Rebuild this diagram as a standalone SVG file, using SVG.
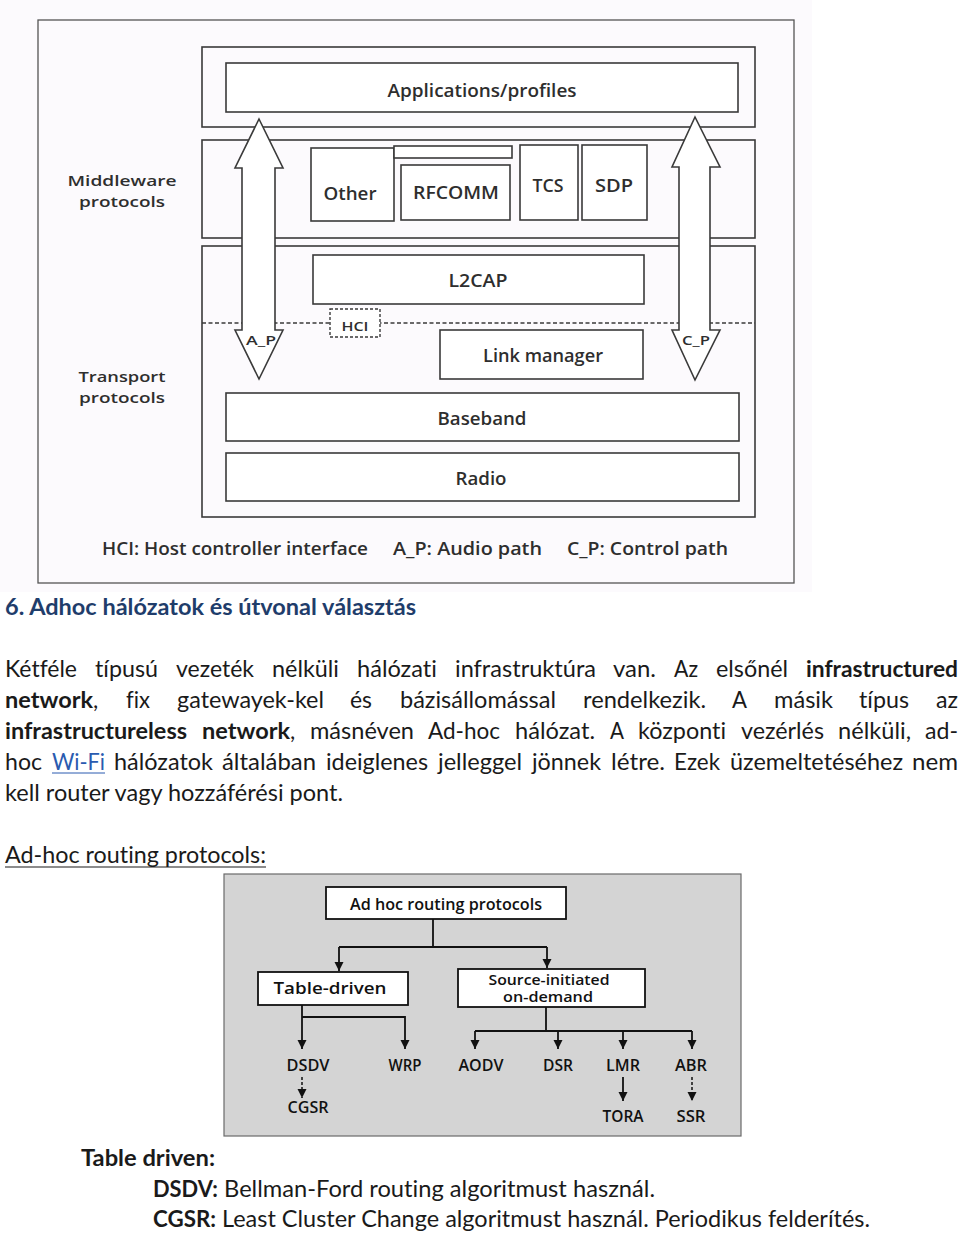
<svg xmlns="http://www.w3.org/2000/svg" width="960" height="1235" viewBox="0 0 960 1235">
<style>
.frame{fill:none;stroke:#555;stroke-width:1.3}
.grp{fill:none;stroke:#3a3a3a;stroke-width:1.6}
.bx{fill:#fff;stroke:#3a3a3a;stroke-width:1.6}
.dash{fill:none;stroke:#3a3a3a;stroke-width:1.4;stroke-dasharray:4 2.5}
.dbx{fill:#fff;stroke:#3a3a3a;stroke-width:1.4;stroke-dasharray:3 2}
.arw{fill:#fff;stroke:#3a3a3a;stroke-width:1.6;stroke-linejoin:miter}
.t{font-family:"Open Sans","Noto Sans",sans-serif;font-weight:600;fill:#2e2e2e;font-size:18px;text-anchor:middle}
.t2{font-family:"Open Sans","Noto Sans",sans-serif;font-weight:600;fill:#2e2e2e;font-size:15px;text-anchor:middle}
.ts{font-family:"Open Sans","Noto Sans",sans-serif;font-weight:600;fill:#2e2e2e;font-size:13px;text-anchor:middle}
.tl{font-family:"Open Sans","Noto Sans",sans-serif;font-weight:600;fill:#2e2e2e;font-size:18px}
.doc{font-family:Lato,"Open Sans",sans-serif;font-size:23px;fill:#1a1a1a;font-variant-ligatures:none}
.b{font-weight:700}
.h1{font-family:Lato,"Open Sans",sans-serif;font-size:23px;font-weight:700;fill:#1f3d6b}
.panel{fill:#d4d4d4;stroke:#6a6a6a;stroke-width:1.2}
.bbx{fill:#fff;stroke:#111;stroke-width:1.8}
.bt{font-family:"Open Sans","Noto Sans",sans-serif;font-weight:600;font-size:16px;fill:#111;text-anchor:middle}
.bt2{font-family:"Open Sans","Noto Sans",sans-serif;font-weight:600;font-size:14px;fill:#111;text-anchor:middle}
.cn{fill:none;stroke:#111;stroke-width:1.8}
.cnd{fill:none;stroke:#111;stroke-width:1.5;stroke-dasharray:3 2}
</style>
<defs>
<marker id="ah" markerUnits="userSpaceOnUse" markerWidth="10" markerHeight="10" refX="9" refY="5" orient="auto" viewBox="0 0 10 10">
<path d="M0,0.5 L9,5 L0,9.5 z" fill="#111"/>
</marker>
</defs>
<rect x="0" y="0" width="960" height="1235" fill="#fff"/>
<rect x="0" y="0" width="812" height="592" fill="#fcfafd"/>

<!-- Bluetooth stack figure -->
<g id="figure-frame">
<rect class="frame" x="38" y="20" width="756" height="563"/>
</g>
<g id="middleware-label">
<text class="t2" x="122" y="186" textLength="109" lengthAdjust="spacingAndGlyphs">Middleware</text>
<text class="t2" x="122" y="207" textLength="86" lengthAdjust="spacingAndGlyphs">protocols</text>
</g>
<g id="transport-label">
<text class="t2" x="122" y="382" textLength="87" lengthAdjust="spacingAndGlyphs">Transport</text>
<text class="t2" x="122" y="403" textLength="86" lengthAdjust="spacingAndGlyphs">protocols</text>
</g>
<g id="group-applications">
<rect class="grp" x="202" y="47" width="553" height="80"/>
</g>
<g id="group-middleware">
<rect class="grp" x="202" y="140" width="553" height="98"/>
</g>
<g id="group-transport">
<rect class="grp" x="202" y="246" width="553" height="271"/>
<line class="dash" x1="202" y1="323" x2="755" y2="323"/>
</g>
<g id="applications">
<rect class="bx" x="226" y="63" width="512" height="49"/>
<text class="t" x="482" y="97" textLength="189" lengthAdjust="spacingAndGlyphs">Applications/profiles</text>
</g>
<g id="other">
<rect class="bx" x="311" y="148" width="83" height="73"/>
<text class="t" x="350" y="200" textLength="53" lengthAdjust="spacingAndGlyphs">Other</text>
</g>
<g id="rfcomm">
<rect class="bx" x="394" y="146" width="118" height="12"/>
<rect class="bx" x="401" y="165" width="109" height="55"/>
<text class="t" x="456" y="199" textLength="86" lengthAdjust="spacingAndGlyphs">RFCOMM</text>
</g>
<g id="tcs">
<rect class="bx" x="520" y="145" width="58" height="75"/>
<text class="t" x="548" y="192" textLength="31" lengthAdjust="spacingAndGlyphs">TCS</text>
</g>
<g id="sdp">
<rect class="bx" x="582" y="145" width="65" height="75"/>
<text class="t" x="614" y="192" textLength="38" lengthAdjust="spacingAndGlyphs">SDP</text>
</g>
<g id="l2cap">
<rect class="bx" x="313" y="255" width="331" height="49"/>
<text class="t" x="478" y="287" textLength="59" lengthAdjust="spacingAndGlyphs">L2CAP</text>
</g>
<g id="hci">
<rect class="dbx" x="330" y="309" width="50" height="28"/>
<text class="ts" x="355" y="331" textLength="27" lengthAdjust="spacingAndGlyphs">HCI</text>
</g>
<g id="link-manager">
<rect class="bx" x="440" y="330" width="203" height="49"/>
<text class="t" x="543" y="362" textLength="120" lengthAdjust="spacingAndGlyphs">Link manager</text>
</g>
<g id="baseband">
<rect class="bx" x="226" y="393" width="513" height="48"/>
<text class="t" x="482" y="425" textLength="89" lengthAdjust="spacingAndGlyphs">Baseband</text>
</g>
<g id="radio">
<rect class="bx" x="226" y="453" width="513" height="48"/>
<text class="t" x="481" y="485" textLength="51" lengthAdjust="spacingAndGlyphs">Radio</text>
</g>
<g id="connectors-top">
<polygon class="arw" points="259,119 283,168 275,168 275,330 283,330 259,379 235,330 242,330 242,168 235,168"/>
<text class="ts" x="261" y="345" textLength="30" lengthAdjust="spacingAndGlyphs">A_P</text>
<polygon class="arw" points="695,117 720,167 710,167 710,330 720,330 695,380 672,330 679,330 679,167 672,167"/>
<text class="ts" x="696" y="345" textLength="28" lengthAdjust="spacingAndGlyphs">C_P</text>
</g>
<g id="legend">
<text class="tl" x="102" y="555" textLength="266" lengthAdjust="spacingAndGlyphs">HCI: Host controller interface</text>
<text class="tl" x="393" y="555" textLength="149" lengthAdjust="spacingAndGlyphs">A_P: Audio path</text>
<text class="tl" x="567" y="555" textLength="161" lengthAdjust="spacingAndGlyphs">C_P: Control path</text>
</g>

<!-- Document text -->
<g id="heading">
<text class="h1" x="5" y="615" textLength="411" lengthAdjust="spacingAndGlyphs">6. Adhoc hálózatok és útvonal választás</text>
</g>
<g id="paragraph">
<text class="doc" y="677"><tspan x="5" textLength="72" lengthAdjust="spacingAndGlyphs">Kétféle</tspan><tspan x="95" textLength="63" lengthAdjust="spacingAndGlyphs">típusú</tspan><tspan x="176" textLength="78" lengthAdjust="spacingAndGlyphs">vezeték</tspan><tspan x="272" textLength="67" lengthAdjust="spacingAndGlyphs">nélküli</tspan><tspan x="357" textLength="80" lengthAdjust="spacingAndGlyphs">hálózati</tspan><tspan x="455" textLength="141" lengthAdjust="spacingAndGlyphs">infrastruktúra</tspan><tspan x="613" textLength="43" lengthAdjust="spacingAndGlyphs">van.</tspan><tspan x="674" textLength="24" lengthAdjust="spacingAndGlyphs">Az</tspan><tspan x="716" textLength="72" lengthAdjust="spacingAndGlyphs">elsőnél</tspan><tspan class="b" x="806" textLength="152" lengthAdjust="spacingAndGlyphs">infrastructured</tspan></text>
<text class="doc" y="708"><tspan class="b" x="5" textLength="88" lengthAdjust="spacingAndGlyphs">network</tspan><tspan>,</tspan><tspan x="126" textLength="24" lengthAdjust="spacingAndGlyphs">fix</tspan><tspan x="177" textLength="147" lengthAdjust="spacingAndGlyphs">gatewayek-kel</tspan><tspan x="350" textLength="22" lengthAdjust="spacingAndGlyphs">és</tspan><tspan x="400" textLength="156" lengthAdjust="spacingAndGlyphs">bázisállomással</tspan><tspan x="583" textLength="123" lengthAdjust="spacingAndGlyphs">rendelkezik.</tspan><tspan x="732" textLength="15" lengthAdjust="spacingAndGlyphs">A</tspan><tspan x="774" textLength="59" lengthAdjust="spacingAndGlyphs">másik</tspan><tspan x="859" textLength="50" lengthAdjust="spacingAndGlyphs">típus</tspan><tspan x="936" textLength="22" lengthAdjust="spacingAndGlyphs">az</tspan></text>
<text class="doc" y="739"><tspan class="b" x="5" textLength="182" lengthAdjust="spacingAndGlyphs">infrastructureless</tspan><tspan class="b" x="202" textLength="88" lengthAdjust="spacingAndGlyphs">network</tspan><tspan>,</tspan><tspan x="310" textLength="104" lengthAdjust="spacingAndGlyphs">másnéven</tspan><tspan x="428" textLength="72" lengthAdjust="spacingAndGlyphs">Ad-hoc</tspan><tspan x="515" textLength="80" lengthAdjust="spacingAndGlyphs">hálózat.</tspan><tspan x="610" textLength="14" lengthAdjust="spacingAndGlyphs">A</tspan><tspan x="638" textLength="88" lengthAdjust="spacingAndGlyphs">központi</tspan><tspan x="741" textLength="83" lengthAdjust="spacingAndGlyphs">vezérlés</tspan><tspan x="838" textLength="73" lengthAdjust="spacingAndGlyphs">nélküli,</tspan><tspan x="925" textLength="33" lengthAdjust="spacingAndGlyphs">ad-</tspan></text>
<text class="doc" y="770"><tspan x="5" textLength="37" lengthAdjust="spacingAndGlyphs">hoc</tspan><tspan x="52" textLength="53" lengthAdjust="spacingAndGlyphs" fill="#2a5bb0">Wi-Fi</tspan><tspan x="114" textLength="99" lengthAdjust="spacingAndGlyphs">hálózatok</tspan><tspan x="222" textLength="94" lengthAdjust="spacingAndGlyphs">általában</tspan><tspan x="326" textLength="102" lengthAdjust="spacingAndGlyphs">ideiglenes</tspan><tspan x="438" textLength="84" lengthAdjust="spacingAndGlyphs">jelleggel</tspan><tspan x="532" textLength="69" lengthAdjust="spacingAndGlyphs">jönnek</tspan><tspan x="611" textLength="54" lengthAdjust="spacingAndGlyphs">létre.</tspan><tspan x="674" textLength="46" lengthAdjust="spacingAndGlyphs">Ezek</tspan><tspan x="730" textLength="173" lengthAdjust="spacingAndGlyphs">üzemeltetéséhez</tspan><tspan x="912" textLength="46" lengthAdjust="spacingAndGlyphs">nem</tspan></text>
<line x1="52" y1="773" x2="105" y2="773" stroke="#2a5bb0" stroke-width="1"/>
<text class="doc" x="5" y="801" textLength="338" lengthAdjust="spacingAndGlyphs">kell router vagy hozzáférési pont.</text>
</g>
<g id="routing-caption">
<text class="doc" x="5" y="863" textLength="261" lengthAdjust="spacingAndGlyphs">Ad-hoc routing protocols:</text>
<line x1="5" y1="867" x2="266" y2="867" stroke="#1a1a1a" stroke-width="1.2"/>
</g>

<!-- Routing protocols figure -->
<g id="routing-panel">
<rect class="panel" x="224" y="874" width="517" height="262"/>
</g>
<g id="connectors">
<path class="cn" d="M433,919 V947 M339,947 H547"/>
<path class="cn" d="M339,947 V971" marker-end="url(#ah)"/>
<path class="cn" d="M547,947 V968" marker-end="url(#ah)"/>
<path class="cn" d="M302,1005 V1049" marker-end="url(#ah)"/>
<path class="cn" d="M302,1017 H405 V1049" marker-end="url(#ah)" stroke-width="1.3"/>
<path class="cn" d="M546,1007 V1031 M475,1031 H692"/>
<path class="cn" d="M475,1031 V1049" marker-end="url(#ah)"/>
<path class="cn" d="M558,1031 V1049" marker-end="url(#ah)"/>
<path class="cn" d="M623,1031 V1049" marker-end="url(#ah)"/>
<path class="cn" d="M692,1031 V1049" marker-end="url(#ah)"/>
<path class="cnd" d="M302,1077 V1098" marker-end="url(#ah)"/>
<path class="cn" d="M623,1077 V1101" marker-end="url(#ah)"/>
<path class="cnd" d="M692,1077 V1101" marker-end="url(#ah)"/>
</g>
<g id="ad-hoc-routing-protocols">
<rect class="bbx" x="326" y="887" width="240" height="32"/>
<text class="bt" x="446" y="910" textLength="192" lengthAdjust="spacingAndGlyphs">Ad hoc routing protocols</text>
</g>
<g id="table-driven">
<rect class="bbx" x="258" y="972" width="150" height="33"/>
<text class="bt" x="330" y="994" textLength="113" lengthAdjust="spacingAndGlyphs">Table-driven</text>
</g>
<g id="source-initiated">
<rect class="bbx" x="458" y="969" width="187" height="38"/>
<text class="bt2" x="549" y="985" textLength="121" lengthAdjust="spacingAndGlyphs">Source-initiated</text>
<text class="bt2" x="548" y="1002" textLength="90" lengthAdjust="spacingAndGlyphs">on-demand</text>
</g>
<g id="dsdv"><text class="bt" x="308" y="1071" textLength="43" lengthAdjust="spacingAndGlyphs">DSDV</text></g>
<g id="wrp"><text class="bt" x="405" y="1071" textLength="33" lengthAdjust="spacingAndGlyphs">WRP</text></g>
<g id="aodv"><text class="bt" x="481" y="1071" textLength="45" lengthAdjust="spacingAndGlyphs">AODV</text></g>
<g id="dsr"><text class="bt" x="558" y="1071" textLength="30" lengthAdjust="spacingAndGlyphs">DSR</text></g>
<g id="lmr"><text class="bt" x="623" y="1071" textLength="34" lengthAdjust="spacingAndGlyphs">LMR</text></g>
<g id="abr"><text class="bt" x="691" y="1071" textLength="32" lengthAdjust="spacingAndGlyphs">ABR</text></g>
<g id="cgsr"><text class="bt" x="308" y="1113" textLength="41" lengthAdjust="spacingAndGlyphs">CGSR</text></g>
<g id="tora"><text class="bt" x="623" y="1122" textLength="41" lengthAdjust="spacingAndGlyphs">TORA</text></g>
<g id="ssr"><text class="bt" x="691" y="1122" textLength="29" lengthAdjust="spacingAndGlyphs">SSR</text></g>

<!-- Notes -->
<g id="notes">
<text class="doc b" x="81" y="1166" textLength="134" lengthAdjust="spacingAndGlyphs">Table driven:</text>
<text class="doc" y="1197"><tspan class="b" x="153" textLength="65" lengthAdjust="spacingAndGlyphs">DSDV:</tspan><tspan x="224" textLength="431" lengthAdjust="spacingAndGlyphs">Bellman-Ford routing algoritmust használ.</tspan></text>
<text class="doc" y="1227"><tspan class="b" x="153" textLength="63" lengthAdjust="spacingAndGlyphs">CGSR:</tspan><tspan x="222" textLength="648" lengthAdjust="spacingAndGlyphs">Least Cluster Change algoritmust használ. Periodikus felderítés.</tspan></text>
</g>
</svg>
